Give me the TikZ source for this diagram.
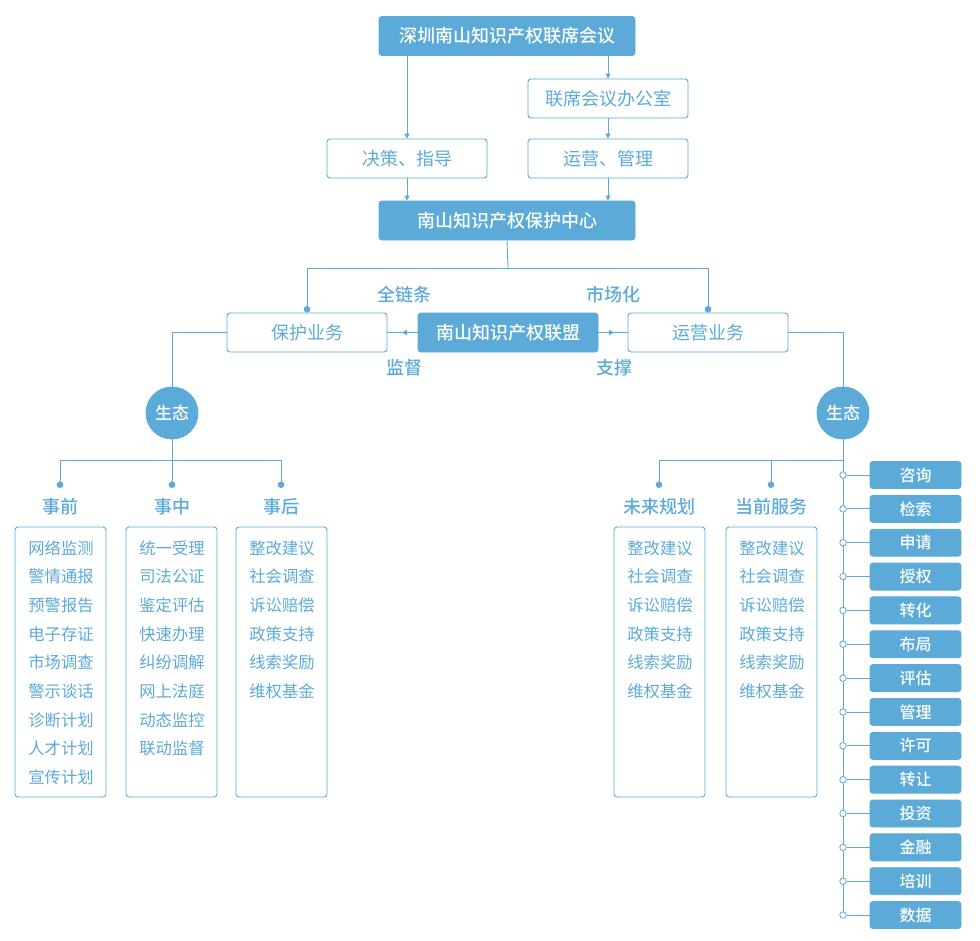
\documentclass[tikz,border=0pt]{standalone}
\usepackage{fontspec}
\setmainfont{Noto Sans CJK SC}
\newfontfamily\medf{Noto Sans CJK SC Medium}
\usetikzlibrary{arrows.meta}
\definecolor{bl}{HTML}{5BAAD8}
\begin{document}
\begin{tikzpicture}[x=1pt,y=-1pt,
  line width=0.9pt,
  every path/.style={draw=bl},
  fbox/.style={fill=bl,draw=bl,rounded corners=3pt,text=white,font=\fontsize{18}{20}\selectfont\medf,minimum height=39pt,inner sep=0pt},
  obox/.style={draw=bl,fill=white,rounded corners=3pt,text=bl,font=\fontsize{18}{20}\selectfont,minimum width=160pt,minimum height=39pt,inner sep=0pt},
  eco/.style={circle,fill=bl,draw=bl,text=white,minimum size=52pt,inner sep=0pt,font=\fontsize{17}{19}\selectfont\medf},
  lab/.style={text=bl,inner sep=0pt,font=\fontsize{18}{20}\selectfont\medf},
  lbl/.style={text=bl,inner sep=0pt,font=\fontsize{18}{20}\selectfont\medf},
  lstbox/.style={draw=bl,rounded corners=3pt,minimum width=91pt,minimum height=270pt,inner sep=0pt},
  lst/.style={text=bl,inner sep=0pt,font=\fontsize{16.3}{18}\selectfont},
  sbox/.style={fill=bl,draw=bl,rounded corners=3pt,text=white,minimum width=91pt,minimum height=27pt,inner sep=0pt,font=\fontsize{16}{18}\selectfont\medf},
  oc/.style={circle,draw=bl,fill=white,line width=0.8pt,minimum size=6.5pt,inner sep=0pt},
  arr/.style={-{Triangle[length=5pt,width=5pt]}},
  dotend/.style={-{Circle[length=6.5pt]}}
]
\path[use as bounding box,draw=none] (0,0) rectangle (980,940);

% top part
\node[fbox,minimum width=256pt] (top) at (507,36) {深圳南山知识产权联席会议};
\node[obox] (off) at (608,98.5) {联席会议办公室};
\node[obox] (jc) at (407,158.5) {决策、指导};
\node[obox] (yg) at (608,158.5) {运营、管理};
\node[fbox,minimum width=256pt] (cen) at (507,220.5) {南山知识产权保护中心};

\draw[arr] (top.south -| jc.north) -- (jc.north);
\draw[arr] (top.south -| off.north) -- (off.north);
\draw[arr] (off.south) -- (yg.north);
\draw[arr] (jc.south) -- (jc.south |- cen.north);
\draw[arr] (yg.south) -- (yg.south |- cen.north);

% middle row
\node[obox] (bh) at (307,332.5) {保护业务};
\node[fbox,minimum width=180pt] (lm) at (508,332.5) {南山知识产权联盟};
\node[obox] (yw) at (708,332.5) {运营业务};

\coordinate (h) at (508,268);
\draw (cen.south) -- (h);
\draw[dotend] (h) -| (bh.north);
\draw[dotend] (h) -| (yw.north);

\coordinate (ml) at (402,332.5);
\coordinate (mr) at (614,332.5);
\draw (lm.west) -- (bh.east);
\draw[arr] (lm.west) -- (ml);
\draw (lm.east) -- (yw.west);
\draw[arr] (lm.east) -- (mr);

\node[lbl] (t1) at (404,295) {全链条};
\node[lbl] (t2) at (613,295) {市场化};
\node[lbl] (t3) at (404,368) {监督};
\node[lbl] (t4) at (614,368) {支撑};

% eco circles
\node[eco] (e1) at (172,413) {生态};
\node[eco] (e2) at (843,413) {生态};
\draw (bh.west) -| (e1.north);
\draw (yw.east) -| (e2.north);

% left branch
\coordinate (l0) at (172,460);
\coordinate (p1) at (60,488);
\coordinate (p2) at (172,488);
\coordinate (p3) at (281,488);
\draw (e1.south) -- (l0);
\draw[dotend] (l0) -| (p1);
\draw[dotend] (l0) -- (p2);
\draw[dotend] (l0) -| (p3);

\node[lab] (g1) at (60,507) {事前};
\node[lab] (g2) at (172,507) {事中};
\node[lab] (g3) at (281,507) {事后};

\node[lstbox] (b1) at (60.5,662) {};
\node[lstbox] (b2) at (171.5,662) {};
\node[lstbox] (b3) at (281.5,662) {};
\node[lstbox] (b4) at (659.5,662) {};
\node[lstbox] (b5) at (771.5,662) {};

\foreach \t [count=\i] in {网络监测,警情通报,预警报告,电子存证,市场调查,警示谈话,诊断计划,人才计划,宣传计划}
  \node[lst] (a\i) at (61,{548+28.65*(\i-1)}) {\t};
\foreach \t [count=\i] in {统一受理,司法公证,鉴定评估,快速办理,纠纷调解,网上法庭,动态监控,联动监督}
  \node[lst] (m\i) at (172,{548+28.65*(\i-1)}) {\t};
\foreach \t [count=\i] in {整改建议,社会调查,诉讼赔偿,政策支持,线索奖励,维权基金}
  \node[lst] (z\i) at (282,{548+28.65*(\i-1)}) {\t};
\foreach \t [count=\i] in {整改建议,社会调查,诉讼赔偿,政策支持,线索奖励,维权基金}
  \node[lst] (w\i) at (660,{548+28.65*(\i-1)}) {\t};
\foreach \t [count=\i] in {整改建议,社会调查,诉讼赔偿,政策支持,线索奖励,维权基金}
  \node[lst] (d\i) at (772,{548+28.65*(\i-1)}) {\t};

% right branch
\coordinate (r0) at (843,460);
\coordinate (f1) at (659,488);
\coordinate (f2) at (771,488);
\coordinate (rend) at (843,915);
\draw (e2.south) -- (rend);
\draw[dotend] (r0) -| (f1);
\draw[dotend] (r0) -| (f2);

\node[lab] (k1) at (659,507) {未来规划};
\node[lab] (k2) at (771,507) {当前服务};

\foreach \t [count=\i] in {咨询,检索,申请,授权,转化,布局,评估,管理,许可,转让,投资,金融,培训,数据} {
  \node[sbox] (s\i) at (915.5,{475+33.85*(\i-1)}) {\t};
  \node[oc] (c\i) at (843,{475+33.85*(\i-1)}) {};
  \draw (c\i) -- (s\i);
}
\end{tikzpicture}
\end{document}
